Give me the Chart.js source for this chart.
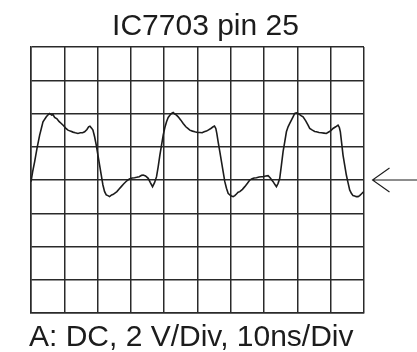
<!DOCTYPE html>
<html>
<head>
<meta charset="utf-8">
<script src="https://cdn.jsdelivr.net/npm/chart.js@4/dist/chart.umd.min.js"></script>
<style>
  html, body { margin: 0; padding: 0; background: #ffffff; }
  canvas { display: block; }
</style>
</head>
<body>
<canvas id="scope" width="417" height="352"></canvas>
<script>
// Screen captions
const titleText = 'IC7703 pin 25';
const settingsText = 'A: DC, 2 V/Div, 10ns/Div';

// Screen graticule: 10 divisions of 10 ns, 8 divisions of 2 V
const timeRange = [0, 100];
const timeStep = 10;
const voltRange = [-8, 8];
const voltStep = 2;
const groundLevel = 0;

// Trace samples: time in ns, level in V
const timeNs = [
  0, 0.5, 1.1, 1.8, 2.6, 3.1, 3.6, 4.6, 5.2, 5.6,
  6.2, 6.6, 7.1, 7.8, 8.4, 9.1, 9.8, 10.4, 11.1, 11.8,
  12.6, 13.3, 14.1, 14.8, 15.5, 16.1, 16.8, 17.3, 17.7, 18.2,
  18.6, 19.1, 19.6, 20.1, 20.6, 21.1, 21.6, 22.1, 22.6, 23.1,
  23.6, 24.2, 24.6, 25.1, 25.8, 26.4, 27.1, 27.8, 28.4, 29.1,
  29.7, 30.4, 31.1, 31.7, 32.5, 33.2, 33.7, 34.4, 35.2, 35.8,
  36.5, 37.1, 37.7, 38.2, 38.7, 39.2, 39.7, 40.2, 40.7, 41.2,
  41.7, 42.2, 42.7, 43.2, 43.7, 44.2, 45.0, 45.7, 46.5, 47.1,
  47.7, 48.5, 49.2, 50.0, 50.7, 51.4, 52.0, 52.7, 53.2, 54.0,
  54.7, 55.1, 55.5, 55.8, 56.2, 56.7, 57.2, 57.7, 58.2, 58.7,
  59.2, 59.7, 60.2, 60.7, 61.2, 61.7, 62.2, 62.7, 63.5, 64.2,
  65.0, 65.7, 66.4, 67.0, 67.7, 68.5, 69.2, 69.7, 70.5, 71.2,
  71.8, 72.3, 72.7, 73.2, 73.7, 74.2, 74.7, 75.2, 75.7, 76.2,
  76.7, 77.2, 77.7, 78.2, 78.7, 79.2, 79.7, 80.2, 80.8, 81.2,
  81.7, 82.5, 83.2, 83.7, 84.5, 85.2, 85.7, 86.5, 87.2, 88.0,
  88.7, 89.5, 90.2, 90.7, 91.5, 92.2, 92.6, 92.9, 93.3, 93.7,
  94.2, 94.7, 95.2, 95.7, 96.2, 96.7, 97.2, 97.7, 98.2, 98.7,
  99.2, 99.7, 100
];
const voltsV = [
  -0.1, 0.5, 1.1, 1.9, 2.7, 3.1, 3.5, 3.8, 3.94, 4.0,
  3.9, 3.94, 3.76, 3.68, 3.52, 3.4, 3.26, 3.12, 3.0, 2.94,
  2.88, 2.84, 2.8, 2.84, 2.84, 2.9, 3.04, 3.2, 3.24, 3.12,
  3.0, 2.6, 2.1, 1.5, 0.9, 0.3, -0.3, -0.7, -0.9, -0.94,
  -1.0, -0.9, -0.88, -0.8, -0.7, -0.56, -0.4, -0.24, -0.12, 0.0,
  0.08, 0.12, 0.14, 0.16, 0.2, 0.28, 0.3, 0.24, 0.1, -0.14,
  -0.4, -0.16, 0.2, 0.8, 1.5, 2.1, 2.7, 3.16, 3.5, 3.76,
  3.9, 4.0, 4.06, 3.96, 3.9, 3.8, 3.6, 3.4, 3.2, 3.1,
  3.0, 2.94, 2.9, 2.86, 2.86, 2.84, 2.9, 2.94, 3.0, 3.1,
  3.2, 3.24, 3.1, 2.8, 2.3, 1.7, 1.1, 0.5, -0.1, -0.5,
  -0.8, -0.9, -0.96, -1.0, -0.94, -0.84, -0.74, -0.7, -0.56, -0.4,
  -0.2, 0.0, 0.08, 0.12, 0.14, 0.18, 0.2, 0.2, 0.24, 0.26,
  0.14, 0.0, -0.1, -0.26, -0.4, -0.2, 0.1, 0.9, 1.7, 2.3,
  2.9, 3.2, 3.4, 3.6, 3.8, 4.0, 4.04, 4.0, 3.92, 3.86,
  3.8, 3.56, 3.3, 3.1, 3.0, 2.92, 2.9, 2.86, 2.84, 2.82,
  2.8, 2.9, 3.0, 3.1, 3.2, 3.3, 3.16, 2.9, 2.2, 1.5,
  0.9, 0.3, -0.16, -0.6, -0.8, -0.94, -0.96, -1.0, -1.0, -0.94,
  -0.84, -0.74, -0.7
];

const ink = '#1c1c1c';
const gridInk = '#2a2a2a';
const fontFamily = '"Liberation Sans", Arial, Helvetica, sans-serif';

const tracePoints = timeNs.map((t, i) => ({ x: t, y: voltsV[i] }));

// White screen background
const backdrop = {
  id: 'backdrop',
  beforeDraw(chart) {
    const ctx = chart.ctx;
    ctx.save();
    ctx.fillStyle = '#ffffff';
    ctx.fillRect(0, 0, chart.width, chart.height);
    ctx.restore();
  }
};

// Captions above and below the screen, plus the ground-level marker arrow
const captions = {
  id: 'captions',
  afterDraw(chart) {
    const ctx = chart.ctx;
    const area = chart.chartArea;
    ctx.save();
    ctx.fillStyle = ink;
    ctx.textBaseline = 'alphabetic';

    ctx.font = '30px ' + fontFamily;
    ctx.textAlign = 'center';
    ctx.fillText(titleText, 205.5, 35);

    ctx.textAlign = 'left';
    ctx.fillText(settingsText, 29, 345.5);

    // ground arrow at the right edge
    const gy = chart.scales.y.getPixelForValue(groundLevel);
    const tipX = area.right + 8.5;
    ctx.strokeStyle = ink;
    ctx.lineWidth = 1.1;
    ctx.beginPath();
    ctx.moveTo(chart.width, gy);
    ctx.lineTo(tipX, gy);
    ctx.moveTo(tipX + 17, gy - 12);
    ctx.lineTo(tipX, gy);
    ctx.lineTo(tipX + 17, gy + 12);
    ctx.stroke();
    ctx.restore();
  }
};

new Chart(document.getElementById('scope'), {
  type: 'line',
  data: {
    datasets: [{
      data: tracePoints,
      borderColor: ink,
      borderWidth: 1.6,
      pointRadius: 0,
      tension: 0,
      fill: false
    }]
  },
  options: {
    responsive: false,
    animation: false,
    devicePixelRatio: 1,
    layout: { padding: { left: 31, right: 53, top: 47, bottom: 39 } },
    plugins: {
      legend: { display: false },
      tooltip: { enabled: false },
      title: { display: false }
    },
    scales: {
      x: {
        type: 'linear',
        min: timeRange[0],
        max: timeRange[1],
        ticks: { display: false, stepSize: timeStep },
        grid: { color: gridInk, lineWidth: 1.5, drawTicks: false },
        border: { display: true, color: gridInk, width: 1.5 }
      },
      y: {
        type: 'linear',
        min: voltRange[0],
        max: voltRange[1],
        ticks: { display: false, stepSize: voltStep },
        grid: { color: gridInk, lineWidth: 1.5, drawTicks: false },
        border: { display: true, color: gridInk, width: 1.5 }
      }
    }
  },
  plugins: [backdrop, captions]
});
</script>
</body>
</html>
